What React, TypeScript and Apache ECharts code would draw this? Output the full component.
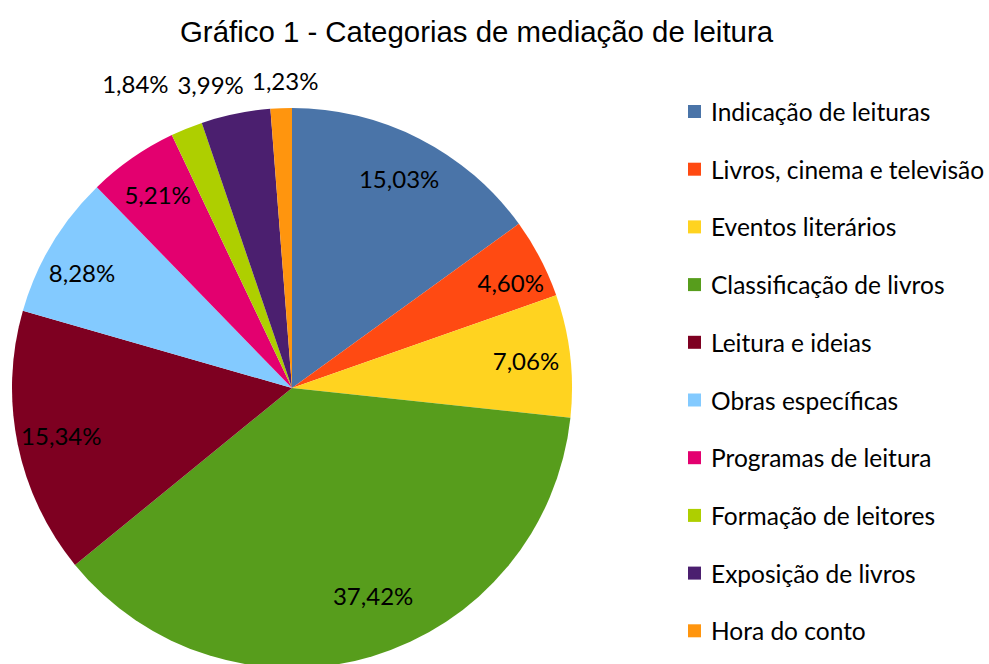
import React, { useEffect, useRef } from "react";
import * as echarts from "echarts";

const titleText = "Gráfico 1 - Categorias de mediação de leitura";
const categories = [
  "Indicação de leituras",
  "Livros, cinema e televisão",
  "Eventos literários",
  "Classificação de livros",
  "Leitura e ideias",
  "Obras específicas",
  "Programas de leitura",
  "Formação de leitores",
  "Exposição de livros",
  "Hora do conto",
];
const values = [15.03, 4.6, 7.06, 37.42, 15.34, 8.28, 5.21, 1.84, 3.99, 1.23];
const colors = [
  "#4A74A8",
  "#FF4A12",
  "#FFD320",
  "#579D1C",
  "#7E0021",
  "#83CAFF",
  "#E3006F",
  "#AECF00",
  "#4B1F6F",
  "#FF950E",
];
const outsideLabelIdx = [7, 8, 9];
// small nudges of data labels (small slices' labels sit in a row above the pie)
const labelShift: Record<number, [number, number]> = {
  1: [10, 4],
  3: [14, -18],
  5: [-8, 6],
  7: [46, -57],
  8: [75, -30],
  9: [43, -8],
};

const FONT = "Lato";
const fmt = (v: number) => v.toFixed(2).replace(".", ",") + "%";

export default function App() {
  const ref = useRef<HTMLDivElement>(null);
  useEffect(() => {
    if (!ref.current) return;
    const chart = echarts.init(ref.current, undefined, { renderer: "svg" });
    const R = 280;
    const center = [292, 388];
    chart.setOption({
      animation: false,
      backgroundColor: "#ffffff",
      title: {
        text: titleText,
        left: 180,
        top: 17,
        padding: 0,
        textStyle: {
          fontFamily: "Liberation Sans",
          fontSize: 29.4,
          fontWeight: "normal",
          color: "#000",
        },
      },
      legend: {
        orient: "vertical",
        left: 688,
        top: 99,
        padding: 0,
        itemWidth: 13,
        itemHeight: 13,
        itemGap: 32.7,
        icon: "rect",
        data: categories,
        textStyle: {
          fontFamily: FONT,
          fontSize: 24.5,
          color: "#000",
          padding: [0, 0, 0, 5],
        },
      },
      series: [
        {
          type: "pie",
          center,
          radius: R,
          startAngle: 90,
          clockwise: true,
          label: { show: false },
          labelLine: { show: false },
          data: categories.map((c, i) => ({
            name: c,
            value: values[i],
            itemStyle: { color: colors[i] },
          })),
        },
        {
          type: "pie",
          center,
          radius: [185, R],
          startAngle: 90,
          clockwise: true,
          silent: true,
          itemStyle: { color: "rgba(0,0,0,0)" },
          labelLine: { show: false, length: 20, length2: 0 },
          label: {
            show: true,
            position: "inside",
            fontFamily: FONT,
            fontSize: 24,
            color: "#000",
            formatter: (p: any) => fmt(p.value),
          },
          labelLayout: (p: any) => {
            const s = labelShift[p.dataIndex];
            return s ? { dx: s[0], dy: s[1] } : {};
          },
          data: categories.map((c, i) => ({
            name: c,
            value: values[i],
            label: outsideLabelIdx.includes(i)
              ? { position: "outside" }
              : undefined,
          })),
        },
      ],
    });
    return () => chart.dispose();
  }, []);
  return (
    <div
      ref={ref}
      style={{ position: "fixed", left: 0, top: 0, width: 989, height: 664 }}
    />
  );
}
